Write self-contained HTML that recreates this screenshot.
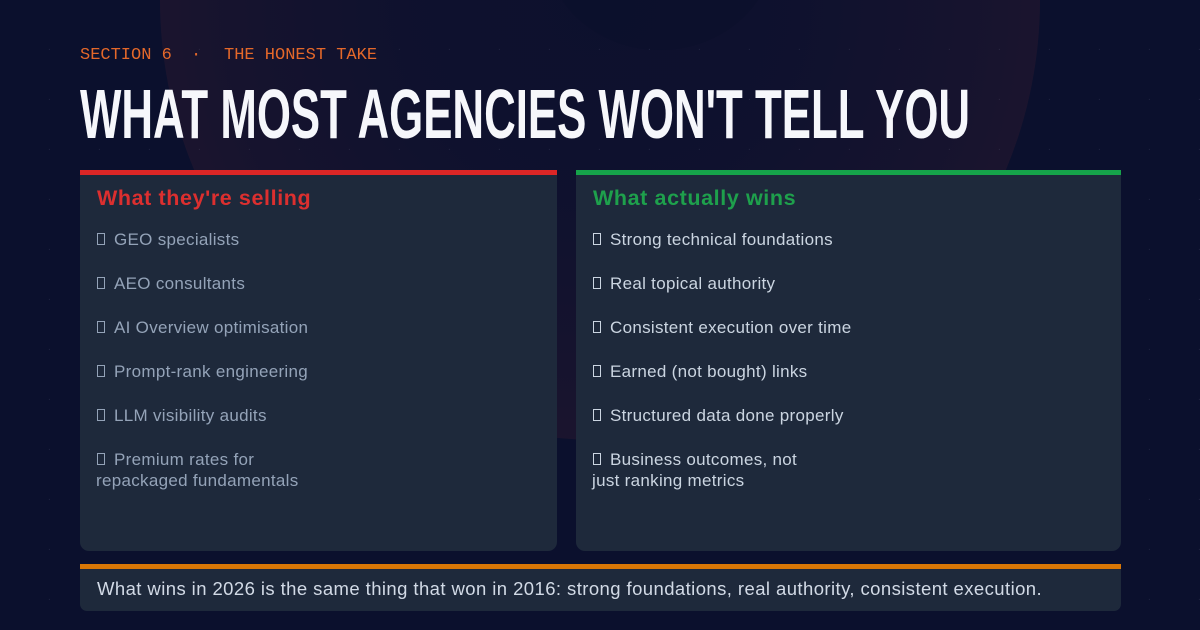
<!DOCTYPE html>
<html><head><meta charset="utf-8"><style>
*{margin:0;padding:0;box-sizing:border-box}
html,body{width:1200px;height:630px;overflow:hidden;background:#0b102d}
body{position:relative;font-family:"Liberation Sans",sans-serif}
.bg{position:absolute;inset:0;background:#0b102d}
.circle{position:absolute;left:160px;top:-440px;width:880px;height:880px;border-radius:50%;
background:radial-gradient(circle at 50% 50%, rgba(30,22,48,0.1) 0, rgba(30,22,48,0.2) 200px, rgba(32,22,46,0.55) 380px, rgba(32,22,46,0.75) 440px)}
.inner{position:absolute;left:545px;top:-160px;width:230px;height:210px;border-radius:50%;background:rgba(10,16,44,0.5)}
.dots{position:absolute;inset:0;background-image:radial-gradient(circle at 50px 50px, rgba(150,150,190,0.12) 0, rgba(150,150,190,0.12) 1px, transparent 1.5px);background-size:50px 50px;background-position:-50px -50px}
.abs{position:absolute;white-space:nowrap}
.sec{font-family:"Liberation Mono",monospace;font-size:17px;line-height:20px;color:#e4682a;top:46px}
.title{left:80px;top:79px;font-size:70px;line-height:70px;font-weight:bold;color:#f6f7fb;transform:scaleX(0.626);transform-origin:0 0}
.card{position:absolute;background:#1e293b;border-radius:0 0 9px 9px}
.bar{position:absolute;height:5px}
.h{position:absolute;font-size:21.5px;line-height:26px;font-weight:bold;letter-spacing:0.6px;top:185px;white-space:nowrap}
.it{position:absolute;font-size:17px;line-height:21px;white-space:nowrap;letter-spacing:0.3px}
.l .it{color:#94a3b8}
.r .it{color:#cbd5e1}
.tofu{display:inline-block;width:8px;height:12px;border:1.3px solid currentColor;vertical-align:0px;margin-right:9px;margin-left:1px}
.foot{position:absolute;left:97px;top:578px;font-size:18.5px;line-height:22px;color:#d2dae6;white-space:nowrap;letter-spacing:0.42px}
</style></head><body>
<div class="bg"></div>
<div class="circle"></div>
<div class="inner"></div>
<div class="dots"></div>

<div class="abs sec" style="left:80px">SECTION 6</div>
<div class="abs sec" style="left:191px">·</div>
<div class="abs sec" style="left:224px">THE HONEST TAKE</div>

<div class="abs title">WHAT MOST AGENCIES WON'T TELL YOU</div>

<div class="bar" style="left:80px;top:170px;width:477px;background:#dc2626"></div>
<div class="card l" style="left:80px;top:175px;width:477px;height:376px"></div>
<div class="bar" style="left:576px;top:170px;width:545px;background:#16a34a"></div>
<div class="card r" style="left:576px;top:175px;width:545px;height:376px"></div>

<div class="l">
<div class="h" style="left:97px;color:#dc2f2f">What they're selling</div>
<div class="it" style="left:96px;top:229px"><span class="tofu"></span>GEO specialists</div>
<div class="it" style="left:96px;top:273px"><span class="tofu"></span>AEO consultants</div>
<div class="it" style="left:96px;top:317px"><span class="tofu"></span>AI Overview optimisation</div>
<div class="it" style="left:96px;top:361px"><span class="tofu"></span>Prompt-rank engineering</div>
<div class="it" style="left:96px;top:405px"><span class="tofu"></span>LLM visibility audits</div>
<div class="it" style="left:96px;top:449px"><span class="tofu"></span>Premium rates for<br>repackaged fundamentals</div>
</div>

<div class="r">
<div class="h" style="left:593px;color:#1ea04c">What actually wins</div>
<div class="it" style="left:592px;top:229px"><span class="tofu"></span>Strong technical foundations</div>
<div class="it" style="left:592px;top:273px"><span class="tofu"></span>Real topical authority</div>
<div class="it" style="left:592px;top:317px"><span class="tofu"></span>Consistent execution over time</div>
<div class="it" style="left:592px;top:361px"><span class="tofu"></span>Earned (not bought) links</div>
<div class="it" style="left:592px;top:405px"><span class="tofu"></span>Structured data done properly</div>
<div class="it" style="left:592px;top:449px"><span class="tofu"></span>Business outcomes, not<br>just ranking metrics</div>
</div>

<div class="bar" style="left:80px;top:564px;width:1041px;background:#d97706"></div>
<div class="card" style="left:80px;top:569px;width:1041px;height:42px;border-radius:0 0 7px 7px"></div>
<div class="foot">What wins in 2026 is the same thing that won in 2016: strong foundations, real authority, consistent execution.</div>
</body></html>
